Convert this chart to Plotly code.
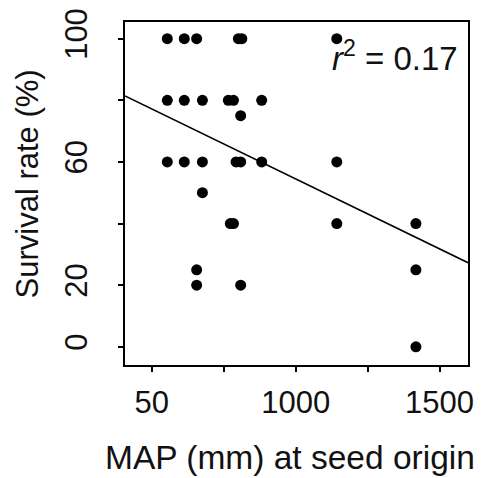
import plotly.graph_objects as go

# Data
map_mm = [554, 613, 656, 801, 813, 1143,
          554, 613, 676, 766, 784, 882,
          809,
          554, 613, 676, 793, 809, 882, 1143,
          676,
          773, 784, 1143, 1418,
          656, 1418,
          656, 809,
          1418]
survival = [100, 100, 100, 100, 100, 100,
            80, 80, 80, 80, 80, 80,
            75,
            60, 60, 60, 60, 60, 60, 60,
            50,
            40, 40, 40, 40,
            25, 25,
            20, 20,
            0]

fit_x = [407, 1599]
fit_y = [81.4, 27.3]

x_tickvals = [500, 750, 1000, 1250, 1500]
x_ticktext = ["50", "", "1000", "", "1500"]
y_tickvals = [0, 20, 40, 60, 80, 100]
y_ticktext = ["0", "20", "", "60", "", "100"]

FONT = "Liberation Sans, Arial, sans-serif"

fig = go.Figure()
fig.add_trace(go.Scatter(x=fit_x, y=fit_y, mode="lines",
                         line=dict(color="black", width=1.6),
                         showlegend=False, hoverinfo="skip"))
fig.add_trace(go.Scatter(x=map_mm, y=survival, mode="markers",
                         marker=dict(color="black", size=11,
                                     line=dict(width=0)),
                         showlegend=False))

fig.update_layout(
    width=484, height=478,
    margin=dict(l=125, r=16, t=22, b=113, autoexpand=False),
    paper_bgcolor="white", plot_bgcolor="white",
    font=dict(family=FONT, color="black"),
    xaxis=dict(range=[407, 1599], tickvals=x_tickvals, ticktext=x_ticktext,
               showgrid=False, zeroline=False, automargin=False,
               showline=True, linecolor="black", linewidth=1.8, mirror=True,
               ticks="outside", ticklen=5, tickwidth=1.5, tickcolor="black",
               tickfont=dict(size=31, family=FONT, color="#111"),
               ticklabelstandoff=4),
    yaxis=dict(range=[-5.9, 105.4], tickvals=y_tickvals, ticktext=y_ticktext,
               showgrid=False, zeroline=False, automargin=False,
               showline=True, linecolor="black", linewidth=1.8, mirror=True,
               ticks="outside", ticklen=5, tickwidth=1.5, tickcolor="black",
               tickangle=-90,
               tickfont=dict(size=31, family=FONT, color="#111"),
               ticklabelstandoff=19),
    annotations=[
        dict(text="<i>r</i><sup>2</sup> = 0.17", xref="paper", yref="paper",
             x=0.976, y=0.90, xanchor="right", yanchor="middle",
             showarrow=False, font=dict(size=33, family=FONT, color="#111")),
        dict(text="MAP (mm) at seed origin", xref="paper", yref="paper",
             x=0.482, y=-0.329, xanchor="center", yanchor="bottom",
             showarrow=False, font=dict(size=33.5, family=FONT, color="#111")),
        dict(text="Survival rate (%)", xref="paper", yref="paper",
             x=-0.283, y=0.529, xanchor="center", yanchor="middle",
             textangle=-90,
             showarrow=False, font=dict(size=31, family=FONT, color="#111")),
    ],
)

fig.write_html("out.html",
               config={"displayModeBar": False},
               post_script="document.body.style.margin='0';"
                           "document.body.style.padding='0';"
                           "document.body.style.overflow='hidden';")
